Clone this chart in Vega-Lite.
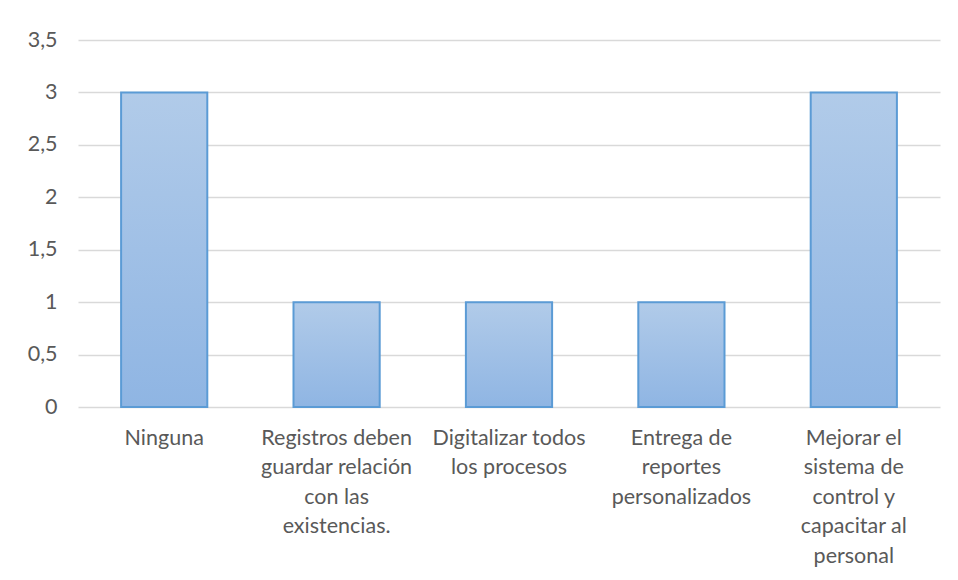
{
  "$schema": "https://vega.github.io/schema/vega-lite/v6.json",
  "width": 862,
  "height": 367,
  "padding": {"left": 78, "top": 40, "right": 18, "bottom": 173},
  "autosize": {"type": "none"},
  "background": "white",
  "data": {
    "values": [
      {"categoria": "Ninguna", "valor": 3},
      {"categoria": "Registros deben\nguardar relación\ncon las\nexistencias.", "valor": 1},
      {"categoria": "Digitalizar todos\nlos procesos", "valor": 1},
      {"categoria": "Entrega de\nreportes\npersonalizados", "valor": 1},
      {"categoria": "Mejorar el\nsistema de\ncontrol y\ncapacitar al\npersonal", "valor": 3}
    ]
  },
  "mark": {
    "type": "bar",
    "stroke": "#5b9bd5",
    "strokeWidth": 2,
    "fill": {
      "gradient": "linear",
      "x1": 0, "y1": 0, "x2": 0, "y2": 1,
      "stops": [
        {"offset": 0, "color": "#b1cbe9"},
        {"offset": 1, "color": "#8fb5e3"}
      ]
    }
  },
  "encoding": {
    "x": {
      "field": "categoria",
      "type": "nominal",
      "sort": null,
      "scale": {"paddingInner": 0.5, "paddingOuter": 0.25},
      "axis": {
        "title": null,
        "labelAngle": 0,
        "labelAlign": "center",
        "labelBaseline": "top",
        "labelExpr": "split(datum.value, '\\n')",
        "labelLineHeight": 29.5,
        "labelPadding": 20,
        "labelFont": "Lato",
        "labelFontSize": 21.5,
        "labelColor": "#595959",
        "ticks": false,
        "domain": false,
        "labelLimit": 300
      }
    },
    "y": {
      "field": "valor",
      "type": "quantitative",
      "scale": {"domain": [0, 3.5], "nice": false},
      "axis": {
        "title": null,
        "values": [0, 0.5, 1, 1.5, 2, 2.5, 3, 3.5],
        "labelExpr": "replace(format(datum.value, ''), '.', ',')",
        "labelFont": "Lato",
        "labelFontSize": 21.5,
        "labelColor": "#595959",
        "labelPadding": 21,
        "ticks": false,
        "domain": false,
        "grid": true,
        "gridColor": "#d9d9d9",
        "gridWidth": 1.5
      }
    }
  },
  "config": {
    "view": {"stroke": null}
  }
}
